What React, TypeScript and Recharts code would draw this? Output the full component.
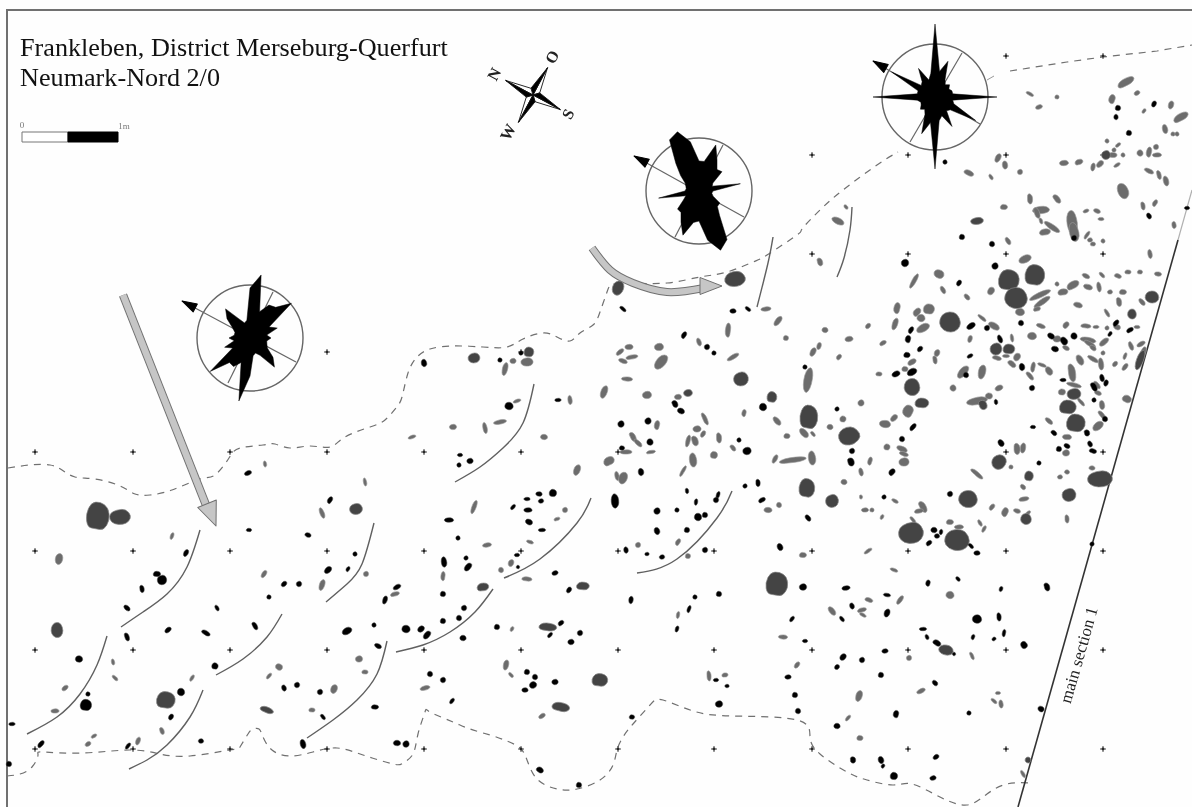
import { ComposedChart, Line, Scatter, XAxis, YAxis, ReferenceArea, RadarChart, Radar, PolarGrid, PolarAngleAxis, PolarRadiusAxis } from 'recharts';

// map units are the pixels of the excavation plan, stones are [x, y, length, width, angle]
type Row = number[];

const gridRows: [number, number[]][] = [
  [56, [1006, 1103]],
  [155, [812, 908, 1006, 1103]],
  [254, [812, 908, 1006, 1103]],
  [352, [327, 521]],
  [452, [35, 133, 230, 327, 424, 521, 618, 1006, 1103]],
  [551, [35, 133, 230, 327, 424, 521, 618, 714, 812, 908, 1006, 1103]],
  [650, [35, 133, 230, 327, 424, 521, 618, 714, 812, 908, 1006, 1103]],
  [749, [35, 133, 230, 327, 424, 521, 618, 714, 812, 908, 1006, 1103]],
];

const darkStones: Row[] = [
  [98, 516, 22, 27], [120, 517, 20, 14], [57, 630, 11, 14], [166, 700, 18, 16], [356, 509, 12, 10],
  [618, 288, 14, 10, -70], [735, 279, 20, 14, -10], [474, 358, 11, 9], [529, 352, 9, 9], [741, 379, 14, 13], [772, 397, 9, 10],
  [1009, 280, 20, 20], [1035, 275, 19, 20], [1016, 298, 22, 20], [950, 322, 20, 19], [912, 387, 15, 16],
  [996, 349, 11, 11], [1009, 349, 11, 9], [922, 403, 13, 9], [809, 417, 17, 23], [849, 436, 17, 20, 70],
  [807, 488, 15, 18], [832, 501, 12, 12], [968, 499, 18, 16], [1069, 495, 13, 12], [1100, 479, 24, 15],
  [1076, 423, 18, 17], [1068, 407, 16, 13], [1074, 394, 13, 10], [1152, 297, 13, 11], [1132, 314, 8, 9],
  [999, 462, 13, 14, 50], [1029, 476, 8, 9], [1026, 519, 10, 10], [911, 533, 24, 20], [957, 540, 24, 20],
  [983, 405, 9, 7, 60], [1106, 155, 8, 8], [483, 587, 11, 7, -10], [583, 586, 12, 7], [548, 627, 17, 7, 5],
  [777, 584, 21, 23], [600, 680, 15, 12], [561, 707, 17, 8, 10], [946, 650, 14, 9, 10], [267, 710, 13, 5, 20],
  [977, 221, 12, 6, -5], [688, 393, 8, 6], [1028, 760, 5, 5], [1140, 360, 20, 6, -70],
];

const grayStones: Row[] = [
  [1126, 82, 17, 6, -30], [1112, 99, 8, 5, -75], [1137, 93, 5, 3, -30], [1030, 94, 7, 2, 30], [1057, 97, 3, 3], [1039, 107, 6, 3, -20],
  [1144, 111, 4, 2, -50], [1171, 105, 7, 4, -70], [1181, 117, 15, 6, -30], [1165, 129, 8, 4, 80], [1173, 134, 3, 3], [1177, 134, 3, 3],
  [1107, 141, 3, 3], [1118, 145, 5, 2, -40], [1113, 155, 7, 4], [1123, 155, 3, 3], [1114, 150, 3, 3], [1140, 153, 5, 5], [1149, 152, 9, 4, -80],
  [1157, 155, 8, 3], [1156, 147, 4, 4], [1064, 163, 8, 4, -5], [1079, 162, 7, 4, -20], [1093, 167, 7, 3, -80], [1100, 164, 7, 4, -40],
  [1117, 165, 6, 2, -30], [1149, 171, 9, 3, 25], [1159, 175, 8, 3, 75], [1166, 181, 9, 4, 75], [1123, 191, 15, 9, 65],
  [998, 158, 8, 4, -60], [1005, 165, 7, 4, 80], [969, 173, 9, 4, 25], [991, 177, 5, 2, 60], [1020, 172, 4, 4],
  [1030, 199, 9, 4, 85], [1057, 199, 9, 4, 50], [1004, 207, 6, 4], [1041, 210, 16, 6, -5], [1037, 213, 10, 4, 70], [1041, 221, 5, 2, 70],
  [1052, 227, 17, 4, 35], [1045, 232, 10, 5, -10], [1072, 222, 22, 9, 85], [1074, 232, 18, 8, 80], [1086, 211, 5, 2, -20], [1097, 211, 6, 3, 20],
  [1101, 219, 5, 2], [1143, 206, 7, 3, 80], [1155, 203, 6, 3, -60], [1174, 225, 6, 3, 85], [1087, 235, 8, 2, -55], [1090, 240, 4, 3], [1093, 244, 4, 3],
  [1103, 241, 3, 3], [1150, 254, 8, 3, 80], [838, 221, 12, 5, 25], [846, 207, 4, 2, 50], [1008, 241, 7, 3, 60], [1025, 259, 12, 6, -25], [820, 262, 7, 4, 70],
  [914, 281, 15, 3, -60], [939, 274, 9, 7, 30], [943, 290, 7, 3, 60], [967, 297, 6, 3, 50], [991, 291, 7, 5, -50], [1073, 285, 12, 6, -30],
  [1063, 292, 9, 5, -10], [1088, 287, 8, 4, 20], [1099, 287, 9, 3, 80], [1119, 302, 8, 4, 80], [1123, 292, 6, 4], [1142, 302, 7, 3, 50],
  [1086, 276, 7, 3, 25], [1102, 275, 6, 2, 45], [1118, 276, 6, 3, 20], [1128, 272, 5, 3], [1158, 274, 6, 3, 10], [1140, 272, 4, 3],
  [1040, 295, 22, 4, -25], [1042, 302, 18, 4, -35], [1037, 309, 6, 3, -15], [1020, 312, 8, 6], [1057, 284, 3, 3], [1110, 292, 4, 3],
  [1078, 305, 8, 4, 15], [1107, 313, 8, 2, 60], [897, 308, 10, 5, -80], [929, 309, 10, 9], [917, 312, 8, 5, -50], [921, 318, 7, 6], [895, 324, 11, 4, -70],
  [923, 328, 13, 6, -30], [868, 326, 5, 3, -50], [825, 330, 5, 4], [849, 339, 7, 4, -10], [883, 343, 6, 3, -30], [839, 357, 5, 3, -50], [819, 346, 6, 3, -70],
  [813, 352, 8, 4, -60], [808, 380, 24, 7, -80], [879, 374, 5, 3], [912, 362, 8, 4, -30], [905, 369, 5, 4], [937, 353, 6, 4, -70], [935, 360, 7, 3, 80],
  [970, 339, 6, 3, -70], [982, 318, 9, 2, 40], [994, 326, 11, 5, 30], [1012, 338, 7, 2, 80], [997, 358, 8, 3, 15], [1006, 356, 6, 2], [1017, 357, 7, 5, -60],
  [1012, 364, 8, 4, 40], [1033, 367, 9, 3, -80], [1042, 365, 8, 2, 20], [1049, 371, 8, 5, 60], [1030, 376, 9, 3, 50], [982, 372, 13, 6, -75], [963, 372, 14, 6, -50],
  [953, 388, 5, 5], [999, 388, 7, 4, -20], [989, 396, 6, 5], [977, 401, 20, 6, -10], [1041, 326, 8, 3, 20], [1066, 325, 6, 4, -50], [1086, 326, 9, 3, 5],
  [1096, 327, 5, 2], [1107, 328, 3, 3], [1117, 327, 6, 4, 30], [1137, 327, 5, 2], [1032, 336, 8, 6], [1057, 339, 7, 5], [1088, 340, 15, 4, 10], [1090, 344, 12, 3, 30],
  [1104, 342, 10, 4, -40], [1093, 348, 6, 3, 40], [1066, 348, 6, 3, 30], [1131, 346, 8, 3, 70], [1141, 344, 8, 3, -30], [1103, 353, 3, 3], [1125, 356, 6, 2, -70],
  [1080, 360, 10, 5, 60], [1093, 359, 11, 3, 30], [1101, 364, 11, 4, 85], [1115, 364, 5, 3, -50], [1125, 367, 7, 3, -50], [1143, 353, 12, 4, -70],
  [1072, 373, 17, 6, 80], [1074, 385, 14, 3, 15], [1062, 392, 6, 5], [1097, 385, 8, 3, 50], [1098, 393, 6, 3, 20], [1102, 405, 8, 4, 85], [1127, 399, 8, 6, 20],
  [1081, 402, 9, 2, 50], [1049, 421, 8, 3, 40], [1067, 437, 8, 4, 5], [1066, 453, 6, 5], [1102, 415, 9, 3, 50], [1098, 426, 11, 6, -40],
  [1092, 468, 5, 3], [1060, 477, 4, 3], [1067, 472, 4, 3], [1023, 487, 5, 3, 50], [1024, 499, 9, 3, -10], [992, 507, 6, 3, -50], [1005, 512, 8, 5, -70],
  [1017, 511, 6, 3, 20], [1028, 513, 5, 2, -40], [1067, 519, 7, 3, 85], [1011, 467, 3, 3], [1017, 449, 10, 5, 85], [1023, 448, 9, 4, -80], [977, 474, 14, 3, 40],
  [980, 523, 6, 2, 60], [984, 529, 6, 2, -60], [923, 507, 11, 5, 60], [919, 511, 8, 3, -10], [913, 520, 7, 2, 50], [950, 522, 6, 4], [959, 527, 8, 3],
  [865, 510, 6, 3], [872, 510, 3, 3], [882, 517, 4, 2, -60], [895, 501, 6, 2, 30], [861, 497, 3, 2, 85], [870, 461, 7, 3, -75], [861, 472, 7, 3, 80], [844, 482, 5, 4],
  [904, 462, 9, 7], [902, 449, 10, 4, 25], [904, 454, 8, 3, 20], [887, 447, 5, 5], [885, 424, 10, 6, 10], [894, 418, 7, 4, -40], [908, 411, 11, 9, -70], [861, 403, 5, 5],
  [843, 419, 5, 5], [830, 427, 5, 4], [804, 433, 10, 5, 50], [813, 434, 5, 2, 50], [793, 460, 26, 4, -8], [812, 458, 13, 6, 85],
  [527, 362, 11, 7], [513, 361, 5, 4], [505, 369, 12, 4, -75], [766, 309, 9, 3, -5], [778, 321, 10, 4, -50], [728, 330, 13, 4, -85], [699, 342, 7, 3, 70], [733, 357, 12, 3, -30], [786, 338, 4, 4],
  [629, 347, 7, 4], [620, 352, 8, 3, -40], [632, 357, 11, 3, -10], [623, 361, 8, 3, 20], [659, 347, 8, 6], [661, 362, 16, 8, -50], [627, 379, 10, 3, 5], [604, 392, 12, 5, -70],
  [647, 395, 8, 6], [678, 397, 6, 4], [517, 401, 7, 2, -20], [570, 400, 8, 3, 85], [500, 422, 12, 3, -10], [485, 428, 10, 3, 80], [453, 427, 6, 4], [412, 437, 7, 2, -20], [544, 437, 6, 4],
  [744, 413, 6, 3, -80], [777, 421, 9, 4, 50], [787, 436, 5, 4], [775, 459, 8, 3, -60], [657, 425, 8, 4, -80], [705, 419, 12, 3, 65], [697, 429, 7, 5], [703, 434, 6, 3, -60],
  [633, 437, 9, 4, 60], [638, 443, 9, 3, 45], [719, 438, 9, 4, 85], [688, 441, 11, 3, -75], [695, 441, 9, 5, 70], [733, 448, 6, 3, 50], [714, 455, 6, 6], [626, 452, 11, 3],
  [651, 452, 8, 2, -10], [693, 460, 13, 6, 85], [683, 471, 11, 2, -60], [609, 461, 10, 7, -30], [577, 470, 10, 5, -70], [617, 476, 8, 3, 80], [623, 478, 11, 7, -70],
  [768, 510, 7, 4], [779, 505, 4, 4], [474, 507, 13, 3, -70], [565, 510, 4, 4], [557, 519, 5, 2, -20], [265, 464, 5, 2, 80], [365, 482, 7, 2, 80], [322, 513, 10, 3, 70], [172, 536, 6, 2, -70],
  [59, 559, 10, 6, -80], [113, 662, 5, 2, 80], [115, 678, 6, 2, 45], [65, 688, 6, 3, -40], [55, 711, 7, 3], [94, 736, 5, 2, -30], [88, 744, 5, 3, -30], [138, 741, 7, 3, -70], [192, 678, 6, 2, -60], [162, 731, 6, 3, 70],
  [264, 574, 7, 3, -55], [322, 585, 10, 4, -70], [366, 574, 4, 4], [395, 594, 8, 3, -15], [279, 667, 6, 5, 40], [269, 676, 6, 2, -50], [334, 689, 8, 5, -70], [359, 659, 6, 5], [365, 672, 5, 3], [312, 710, 5, 3],
  [487, 545, 8, 3, -10], [530, 542, 6, 2, 20], [443, 576, 8, 3, -85], [511, 563, 6, 4, -70], [501, 570, 4, 4], [527, 579, 9, 3, 5], [512, 629, 4, 2, -60], [638, 545, 4, 4], [678, 542, 6, 3, -60], [688, 556, 4, 4],
  [678, 615, 6, 2, -80], [783, 637, 8, 3, 5], [797, 665, 6, 3, -50], [506, 665, 9, 4, -75], [511, 675, 5, 2, 50], [542, 716, 6, 3, -30], [425, 688, 9, 3, -15], [709, 676, 9, 3, 85], [725, 675, 5, 3, -10],
  [803, 555, 6, 4], [868, 551, 8, 2, -35], [894, 570, 7, 2, 20], [950, 595, 7, 6], [869, 600, 7, 3, 20], [900, 600, 9, 3, -55], [832, 611, 9, 4, 50], [862, 610, 8, 3, -15], [863, 615, 6, 2, 30],
  [972, 656, 7, 2, 65], [909, 658, 4, 4], [921, 691, 8, 3, -25], [859, 696, 10, 5, -70], [998, 693, 4, 2], [994, 701, 6, 2, 40], [1001, 704, 7, 3, 85], [848, 718, 6, 2, -50], [860, 738, 5, 4], [1023, 774, 7, 2, 60],
];

const blackStones: Row[] = [
  [1118, 108, 4, 4], [1116, 117, 3, 4], [1154, 104, 5, 3, -60], [1129, 133, 4, 4], [945, 162, 3, 3], [1074, 238, 4, 4], [1149, 216, 5, 3, 60], [1187, 208, 4, 2],
  [962, 237, 4, 4], [992, 244, 4, 4], [905, 263, 6, 6], [995, 266, 5, 5], [805, 367, 3, 3], [911, 330, 6, 3, -60], [908, 339, 6, 4, -80], [907, 355, 5, 4], [920, 349, 5, 3, -50],
  [912, 372, 9, 5, -30], [896, 374, 7, 4, -20], [959, 283, 5, 3, -60], [971, 326, 8, 4, -30], [987, 328, 4, 4], [1000, 339, 7, 3, 70], [970, 356, 5, 2, -30], [1022, 367, 6, 4, 80],
  [966, 375, 4, 4], [1032, 388, 4, 4], [996, 402, 4, 2, 80], [1021, 323, 4, 4], [1116, 323, 6, 3, -50], [1110, 334, 4, 2, -50], [1130, 330, 6, 3, -30], [1051, 336, 6, 4, 40],
  [1064, 341, 7, 5, 60], [1074, 336, 5, 5], [1055, 349, 6, 4, 15], [1063, 380, 5, 2], [1102, 378, 6, 3, 80], [1094, 387, 8, 4, 60], [1106, 383, 5, 3, -70], [1094, 400, 3, 3],
  [1033, 427, 4, 2], [1054, 433, 5, 3, 40], [1067, 446, 5, 3, 30], [1059, 449, 4, 4], [1087, 433, 5, 4, 70], [1090, 444, 5, 3, 70], [1093, 451, 6, 3, 15], [1105, 419, 4, 4],
  [1039, 463, 3, 3], [1001, 443, 6, 4, 60], [950, 494, 4, 4], [934, 530, 5, 4], [941, 532, 4, 2, -80], [937, 536, 4, 3], [884, 497, 3, 3], [892, 472, 6, 4, -50], [851, 462, 7, 5, 70], [852, 451, 4, 4],
  [902, 439, 4, 4], [913, 427, 7, 3, -50], [837, 409, 3, 3], [808, 518, 6, 3, 50], [424, 363, 6, 4, 85], [500, 360, 3, 3], [521, 353, 3, 3], [623, 309, 6, 2, 40], [733, 311, 5, 3], [748, 309, 5, 2, 40],
  [684, 335, 6, 3, -60], [707, 347, 4, 4], [714, 353, 3, 3], [675, 404, 6, 4, 60], [681, 411, 6, 4, 20], [509, 406, 7, 6], [558, 400, 5, 2], [460, 455, 4, 2], [459, 465, 3, 3], [470, 461, 5, 4],
  [763, 407, 6, 6], [621, 424, 5, 5], [648, 421, 5, 5], [650, 442, 5, 5], [739, 440, 3, 3], [747, 451, 7, 6], [622, 448, 4, 3], [641, 472, 6, 4, 80], [745, 486, 3, 3], [758, 483, 6, 3, 85],
  [762, 500, 6, 3, -30], [718, 495, 6, 2, -70], [716, 500, 4, 4], [696, 502, 5, 2, -80], [687, 491, 4, 2, 80], [615, 501, 13, 6, 85], [657, 511, 5, 5], [677, 510, 3, 3], [698, 517, 6, 6], [705, 515, 4, 4],
  [657, 531, 6, 4, 70], [687, 530, 4, 4], [553, 493, 6, 6], [539, 494, 5, 3, 10], [527, 499, 5, 2], [541, 501, 4, 3], [513, 507, 5, 2, -50], [528, 510, 7, 3], [529, 522, 6, 4, 30], [542, 530, 6, 2], [449, 520, 8, 3], [458, 538, 3, 3],
  [248, 473, 6, 3, -20], [330, 500, 6, 3, -60], [249, 530, 4, 2], [308, 535, 5, 3, 15], [186, 553, 6, 3, -60], [157, 574, 6, 4], [162, 580, 8, 8], [142, 589, 6, 3, 80], [127, 608, 6, 3, 40],
  [168, 630, 6, 3, -40], [206, 633, 8, 3, 30], [127, 637, 7, 3, 70], [79, 659, 6, 5], [88, 694, 3, 3], [86, 705, 10, 10], [12, 724, 5, 2], [41, 744, 7, 3, -50], [9, 764, 4, 4], [128, 746, 6, 2, -50],
  [181, 692, 6, 6], [171, 717, 5, 3, -60], [201, 741, 4, 3], [284, 584, 5, 3, -40], [299, 584, 4, 4], [269, 597, 3, 3], [217, 608, 5, 2, 60], [328, 570, 7, 4, -40], [348, 569, 4, 2, -60], [355, 554, 3, 3],
  [385, 600, 7, 3, -70], [397, 587, 7, 3, -30], [255, 626, 7, 3, 60], [347, 631, 9, 5, -30], [374, 625, 3, 3], [378, 646, 6, 3, 30], [215, 666, 5, 5], [284, 688, 5, 3, 70], [297, 685, 4, 4], [320, 692, 4, 4],
  [323, 717, 5, 2, 50], [375, 707, 6, 3], [303, 744, 8, 4, 75], [397, 743, 6, 4], [444, 562, 9, 4, 85], [466, 558, 3, 3], [468, 567, 8, 4, -50], [443, 594, 4, 4], [464, 608, 4, 4], [443, 621, 4, 4], [459, 618, 4, 4],
  [406, 629, 7, 6], [421, 629, 6, 4, -40], [427, 635, 8, 4, -50], [463, 638, 5, 4], [517, 555, 4, 2], [518, 567, 2, 2], [555, 573, 5, 3, -20], [569, 590, 5, 3, -50], [497, 627, 4, 4], [561, 623, 5, 3, -40],
  [550, 635, 5, 2, -50], [580, 633, 4, 4], [571, 642, 5, 4], [626, 550, 5, 3, 80], [647, 554, 3, 2], [662, 557, 4, 3], [705, 550, 4, 4], [780, 547, 6, 4, 70], [719, 594, 4, 4], [695, 597, 3, 3], [631, 600, 6, 3, -80],
  [689, 609, 6, 2, -70], [677, 629, 5, 2, -70], [792, 619, 5, 2, -50], [527, 672, 4, 4], [535, 677, 4, 4], [533, 685, 6, 5, -30], [525, 690, 5, 3], [555, 682, 5, 4], [430, 674, 4, 4], [443, 680, 4, 4], [452, 701, 5, 2, -50],
  [406, 744, 5, 5], [540, 770, 6, 4, 30], [579, 785, 4, 4], [632, 717, 4, 3], [716, 680, 4, 2], [727, 686, 3, 2], [719, 704, 6, 5], [788, 677, 5, 3], [795, 695, 4, 4], [798, 711, 4, 4],
  [929, 543, 5, 3, -40], [971, 546, 5, 2, 45], [977, 553, 5, 3], [803, 587, 6, 5], [846, 588, 7, 3, -10], [928, 583, 5, 3, -80], [958, 579, 4, 2, 50], [1001, 589, 4, 2, -70], [1047, 587, 7, 4, 70],
  [887, 595, 6, 2, 10], [852, 606, 5, 3, 70], [842, 619, 5, 2, 50], [887, 613, 7, 4, -70], [977, 619, 8, 7], [999, 617, 7, 3, 85], [1004, 633, 6, 2, -80], [994, 639, 3, 2, -30], [973, 637, 4, 2, -70],
  [923, 629, 6, 2], [927, 637, 4, 2, 70], [937, 643, 7, 4, 30], [954, 654, 2, 2], [1024, 645, 6, 5, 70], [805, 641, 4, 2], [885, 651, 5, 3, -10], [843, 657, 6, 4, -50], [862, 660, 4, 4], [837, 667, 4, 3, -40],
  [881, 675, 4, 4], [935, 683, 5, 3, 50], [896, 714, 6, 4, -80], [969, 713, 3, 3], [1041, 709, 5, 4, 40], [837, 726, 5, 4], [936, 757, 5, 3, -30], [853, 760, 5, 4, 80], [881, 760, 6, 4, 70], [883, 766, 3, 2, -60],
  [894, 776, 6, 6], [933, 778, 5, 3, -10], [1092, 544, 3, 3],
];

const boundaryNorthWest: Row[] = [
  [8, 468], [30, 465], [50, 465], [62, 470], [75, 477], [95, 479], [120, 486], [135, 494], [150, 495], [172, 490], [200, 479], [215, 475], [229, 458], [240, 448], [263, 445], [275, 444], [290, 448], [310, 446], [330, 447], [345, 437], [370, 427], [385, 420],
  [396, 408], [402, 397], [408, 373], [417, 357], [430, 349], [452, 346], [483, 347], [507, 347], [523, 339], [543, 333], [557, 337], [570, 341], [580, 333], [593, 325], [600, 312], [607, 292], [613, 284],
  [633, 283], [667, 283], [700, 277], [727, 272], [753, 262], [767, 255], [797, 235], [802, 229], [820, 210], [843, 190], [877, 165], [898, 152],
];
const boundaryNorthEast: Row[] = [[1010, 71], [1067, 62], [1103, 57], [1157, 51], [1192, 45]];
const boundarySouth: Row[] = [
  [7, 776], [20, 774], [32, 767], [38, 755], [43, 752], [83, 753], [130, 750], [160, 754], [190, 756], [230, 750], [240, 747], [248, 734], [253, 729], [259, 729], [263, 737], [272, 750], [290, 756], [313, 752], [337, 748], [363, 755], [393, 764],
  [403, 763], [413, 754], [418, 734], [425, 712], [430, 712], [453, 722], [470, 729], [490, 735], [507, 741], [520, 748], [527, 760], [537, 779], [557, 789], [577, 789], [600, 780], [613, 765], [617, 750], [623, 737], [633, 724], [650, 705], [663, 700], [693, 711], [733, 716], [797, 720],
  [810, 737], [820, 754], [847, 772], [867, 780], [893, 785], [912, 784], [940, 797], [967, 805], [987, 794], [1007, 784], [1030, 783],
];

const arcs: Row[][] = [
  [[200, 530], [187, 567], [167, 594], [143, 612], [121, 627]],
  [[107, 636], [97, 665], [80, 694], [57, 717], [27, 734]],
  [[203, 690], [190, 717], [167, 745], [147, 760], [129, 769]],
  [[282, 614], [267, 637], [243, 659], [216, 675]],
  [[374, 523], [362, 564], [347, 584], [326, 602]],
  [[387, 641], [377, 674], [357, 700], [333, 720], [307, 738]],
  [[493, 589], [475, 612], [450, 632], [423, 645], [396, 652]],
  [[591, 498], [577, 523], [540, 559], [504, 578]],
  [[534, 384], [523, 423], [503, 448], [480, 467], [455, 482]],
  [[732, 491], [717, 518], [677, 559], [637, 573]],
  [[852, 207], [850, 230], [844, 258], [837, 277]],
  [[773, 237], [768, 263], [757, 307]],
];

const frame: Row[] = [[1192, 10], [7, 10], [7, 807]];
const sectionUpper: Row[] = [[1192, 190], [1178, 240]];
const sectionLine: Row[] = [[1178, 240], [1018, 807]];
const neTick: Row[] = [[987, 80], [994, 76]];

const roseAxes: Row[][] = [
  [[182, 301], [296, 362]], [[273, 292], [228, 383]],
  [[634, 156], [744, 217]], [[723, 145], [675, 237]],
  [[873, 61], [980, 124]], [[962, 53], [910, 142]],
];
// x, y, length, width, angle
const blackPointers: Row[] = [[182, 301, 15, 9, 208], [634, 156, 15, 9, 209], [873, 61, 15, 9, 210]];
const grayHeads: Row[] = [[216, 526, 24, 20, 68], [722, 286, 22, 17, 0]];
const arrowLong: Row[] = [[123, 295], [206, 505]];
const arrowCurved: Row[] = [[592, 248], [610, 270], [633, 283], [667, 292], [704, 288]];
const compass: Row[] = [[533, 95, 31, 28]];

const scaleWhite: number[] = [22, 68];
const scaleBlack: number[] = [68, 118];

const roseBearings = Array.from({ length: 36 }).map((_, i) => i * 10);
const roseWest = [50, 64, 28, 38, 40, 54, 22, 29, 17, 21, 17, 18, 20, 30, 38, 20, 16, 18, 38, 64, 26, 33, 32, 52, 20, 27, 16, 21, 16, 16, 20, 30, 38, 22, 16, 18];
const roseMiddle = [30, 30, 49, 36, 28, 30, 16, 14, 42, 14, 13, 15, 24, 24, 32, 56, 63, 50, 30, 32, 47, 36, 28, 28, 18, 14, 41, 14, 13, 14, 16, 24, 36, 59, 63, 50];
const roseEast = [73, 26, 38, 20, 16, 19, 16, 18, 18, 62, 18, 20, 47, 20, 18, 34, 20, 24, 72, 26, 39, 20, 16, 19, 16, 15, 18, 62, 18, 18, 50, 18, 20, 33, 18, 24];

const roses = [
  { id: 'west', left: 250, top: 338, values: roseWest },
  { id: 'middle', left: 699, top: 191, values: roseMiddle },
  { id: 'east', left: 935, top: 97, values: roseEast },
];

const toPoints = (rows: Row[]) => rows.map(([x, y, l = 3, w = l, a = 0]) => ({ x, y, l, w, a }));
const crosses = gridRows.flatMap(([y, xs]) => xs.map((x) => ({ x, y })));

const OUTLINES = [
  [[1, 0.1], [0.7, 0.75], [0.1, 1], [-0.6, 0.8], [-1, 0.15], [-0.75, -0.7], [-0.05, -1], [0.65, -0.8]],
  [[1, -0.2], [0.8, 0.6], [0.25, 0.95], [-0.5, 0.9], [-0.95, 0.35], [-0.9, -0.45], [-0.3, -0.9], [0.5, -1]],
  [[0.95, 0.3], [0.45, 0.95], [-0.2, 0.85], [-0.85, 0.75], [-1, -0.1], [-0.55, -0.9], [0.2, -0.95], [0.85, -0.55]],
];

// rounded outline: quadratic curves between the edge midpoints
function stoneShape(fill: string, stroke: string, strokeWidth: number, grow: number) {
  return (props: any) => {
    const { cx, cy, payload } = props;
    const { l, w, a, x, y } = payload;
    const hx = (l + grow) / 2;
    const hy = (w + grow) / 2;
    const pts = OUTLINES[(x + y) % 3].map(([px, py]) => [px * hx * 1.08, py * hy * 1.08]);
    const mid = (p: number[], q: number[]) => `${(p[0] + q[0]) / 2} ${(p[1] + q[1]) / 2}`;
    let d = `M${mid(pts[pts.length - 1], pts[0])}`;
    pts.forEach((p, i) => {
      d += ` Q${p[0]} ${p[1]} ${mid(p, pts[(i + 1) % pts.length])}`;
    });
    return <path d={`${d}Z`} transform={`translate(${cx} ${cy}) rotate(${a})`} fill={fill} stroke={stroke} strokeWidth={strokeWidth} />;
  };
}

function crossShape(props: any) {
  const { cx, cy } = props;
  return (
    <g transform={`translate(${cx} ${cy})`}>
      <circle r={1.4} fill="#111" />
      <path d="M-3 0H3M0 -3V3" stroke="#333" strokeWidth={0.9} />
    </g>
  );
}

function headShape(fill: string, stroke: string) {
  return (props: any) => {
    const { cx, cy, payload } = props;
    const { l, w, a } = payload;
    return <polygon points={`0,0 ${-l},${-w / 2} ${-l},${w / 2}`} transform={`translate(${cx} ${cy}) rotate(${a})`} fill={fill} stroke={stroke} strokeWidth={1} strokeLinejoin="round" />;
  };
}

function compassShape(props: any) {
  const { cx, cy, payload } = props;
  const { l, w } = payload;
  const waist = l * 0.16;
  return (
    <g transform={`translate(${cx} ${cy}) rotate(${w})`} stroke="#111" strokeWidth={0.8} strokeLinejoin="round">
      {[0, 90, 180, 270].map((turn) => (
        <g key={turn} transform={`rotate(${turn})`}>
          <polygon points={`0,${-l} ${waist},${-waist} 0,0`} fill="#fff" />
          <polygon points={`0,${-l} ${-waist},${-waist} 0,0`} fill="#000" />
        </g>
      ))}
    </g>
  );
}

const SERIF = '"Liberation Serif", serif';

function mapLine(rows: Row[], key: string, stroke: string, strokeWidth: number, dash?: string, type: any = 'linear') {
  return (
    <Line
      key={key}
      data={toPoints(rows)}
      dataKey="y"
      type={type}
      stroke={stroke}
      strokeWidth={strokeWidth}
      strokeDasharray={dash}
      dot={false}
      activeDot={false}
      isAnimationActive={false}
      legendType="none"
    />
  );
}

export default function App() {
  return (
    <div style={{ position: 'absolute', left: 0, top: 0, width: 1192, height: 807, background: '#fefefe', overflow: 'hidden', filter: 'blur(0.45px)' }}>
      <ComposedChart width={1192} height={807} margin={{ top: 0, right: 0, bottom: 0, left: 0 }}>
        <XAxis type="number" dataKey="x" domain={[0, 1192]} allowDataOverflow hide />
        <YAxis type="number" dataKey="y" domain={[0, 807]} allowDataOverflow reversed hide />

        {mapLine(frame, 'frame', '#707070', 2)}
        {mapLine(boundaryNorthWest, 'nw', '#707070', 1.2, '7 6', 'natural')}
        {mapLine(boundaryNorthEast, 'ne', '#707070', 1.2, '7 6')}
        {mapLine(boundarySouth, 'south', '#707070', 1.2, '7 6', 'natural')}
        {mapLine(neTick, 'tick', '#999', 1)}
        {arcs.map((arc, i) => mapLine(arc, `arc-${i}`, '#606060', 1.4, undefined, 'natural'))}
        {mapLine(sectionUpper, 'section-upper', '#b0b0b0', 1.2)}
        {mapLine(sectionLine, 'section', '#333', 1.6)}
        {roseAxes.map((axis, i) => mapLine(axis, `axis-${i}`, '#666', 1.2))}

        <Scatter data={crosses} dataKey="y" shape={crossShape} isAnimationActive={false} />
        <Scatter data={toPoints(grayStones)} dataKey="y" shape={stoneShape('#6c6c6c', '#999', 0.6, 1.2)} isAnimationActive={false} />
        <Scatter data={toPoints(darkStones)} dataKey="y" shape={stoneShape('#444', '#888', 0.7, 0.8)} isAnimationActive={false} />
        <Scatter data={toPoints(blackStones)} dataKey="y" shape={stoneShape('#000', '#444', 0.5, 1.4)} isAnimationActive={false} />

        {mapLine(arrowLong, 'arrow-long-edge', '#707070', 8.5)}
        {mapLine(arrowLong, 'arrow-long', '#c6c6c6', 6.5)}
        {mapLine(arrowCurved, 'arrow-curved-edge', '#707070', 8, undefined, 'natural')}
        {mapLine(arrowCurved, 'arrow-curved', '#c6c6c6', 6, undefined, 'natural')}
        <Scatter data={toPoints(grayHeads)} dataKey="y" shape={headShape('#c6c6c6', '#707070')} isAnimationActive={false} />
        <Scatter data={toPoints(blackPointers)} dataKey="y" shape={headShape('#000', '#000')} isAnimationActive={false} />
        <Scatter data={toPoints(compass)} dataKey="y" shape={compassShape} isAnimationActive={false} />

        <ReferenceArea x1={scaleWhite[0]} x2={scaleWhite[1]} y1={132} y2={142} fill="#fff" fillOpacity={1} stroke="#777" />
        <ReferenceArea x1={scaleBlack[0]} x2={scaleBlack[1]} y1={132} y2={142} fill="#000" fillOpacity={1} stroke="#000" />

        <text x={20} y={56} fontFamily={SERIF} fontSize={26.2} fill="#111">Frankleben, District Merseburg-Querfurt</text>
        <text x={20} y={86} fontFamily={SERIF} fontSize={26.2} fill="#111">Neumark-Nord 2/0</text>
        <text x={22} y={128} fontFamily={SERIF} fontSize={9} fill="#777" textAnchor="middle">0</text>
        <text x={124} y={129} fontFamily={SERIF} fontSize={9} fill="#777" textAnchor="middle">1m</text>
        <text x={494} y={74} fontFamily={SERIF} fontSize={16} fontWeight={700} fill="#222" textAnchor="middle" dominantBaseline="central" transform="rotate(-62 494 74)">N</text>
        <text x={552} y={57} fontFamily={SERIF} fontSize={16} fontWeight={700} fill="#222" textAnchor="middle" dominantBaseline="central" transform="rotate(-62 552 57)">O</text>
        <text x={568} y={114} fontFamily={SERIF} fontSize={16} fontWeight={700} fill="#222" textAnchor="middle" dominantBaseline="central" transform="rotate(-62 568 114)">S</text>
        <text x={508} y={132} fontFamily={SERIF} fontSize={16} fontWeight={700} fill="#222" textAnchor="middle" dominantBaseline="central" transform="rotate(-62 508 132)">W</text>
        <text x={1079} y={655} fontFamily={SERIF} fontSize={17} fill="#222" textAnchor="middle" dominantBaseline="central" transform="rotate(-74 1079 655)">main section 1</text>
      </ComposedChart>

      {roses.map((rose) => (
        <div key={rose.id} style={{ position: 'absolute', left: rose.left - 80, top: rose.top - 80 }}>
          <RadarChart
            width={160}
            height={160}
            margin={{ top: 0, right: 0, bottom: 0, left: 0 }}
            outerRadius={80}
            data={roseBearings.map((bearing, i) => ({ bearing, r: rose.values[i] }))}
          >
            <PolarGrid gridType="circle" polarRadius={[53]} radialLines={false} stroke="#666" strokeWidth={1.4} />
            <PolarAngleAxis dataKey="bearing" tick={false} axisLine={false} />
            <PolarRadiusAxis domain={[0, 80]} tick={false} axisLine={false} />
            <Radar dataKey="r" fill="#000" fillOpacity={1} stroke="#000" strokeWidth={0.5} dot={false} isAnimationActive={false} />
          </RadarChart>
        </div>
      ))}
    </div>
  );
}
